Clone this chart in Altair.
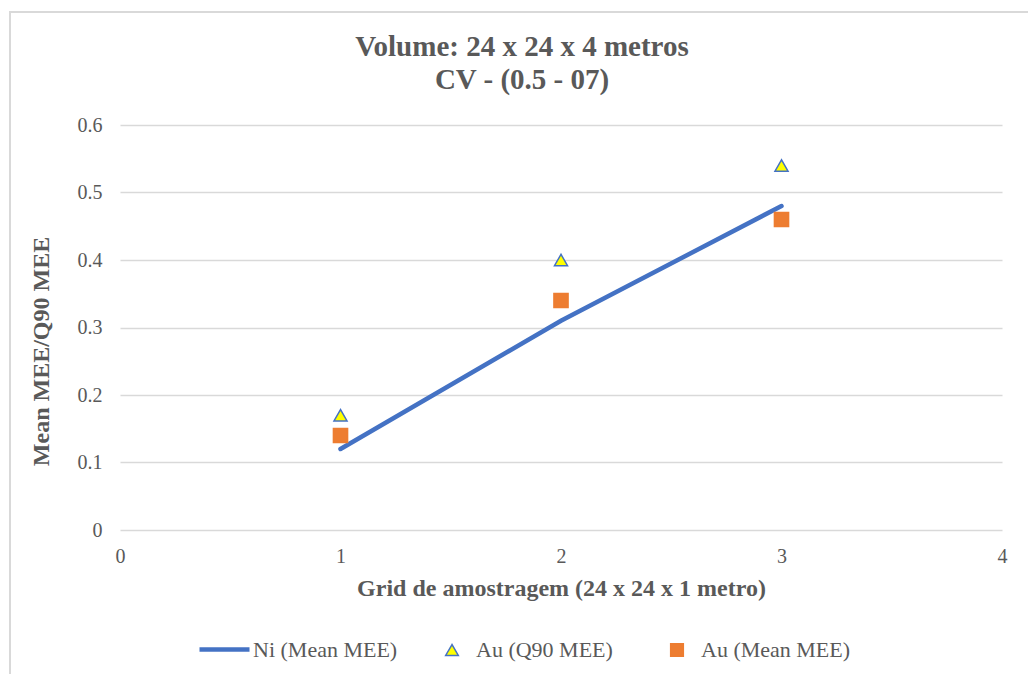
import altair as alt
import pandas as pd

# Series values read per sampling grid step
grid = [1, 2, 3]
ni_mean = [0.12, 0.31, 0.48]
au_q90 = [0.17, 0.40, 0.54]
au_mean = [0.14, 0.34, 0.46]

line_name = "Ni (Mean MEE)"
point_names = ["Au (Q90 MEE)", "Au (Mean MEE)"]
x_ticks = [0, 1, 2, 3, 4]
y_ticks = [0, 0.1, 0.2, 0.3, 0.4, 0.5, 0.6]

FONT = "Liberation Serif"
GREY = "#595959"
GRID = "#D9D9D9"
BLUE = "#4472C4"
ORANGE = "#ED7D31"
YELLOW = "#FFFF00"

line_df = pd.DataFrame({"grid": grid, "value": ni_mean, "serie": line_name})
pts_df = pd.concat([
    pd.DataFrame({"grid": grid, "value": au_q90, "serie": point_names[0]}),
    pd.DataFrame({"grid": grid, "value": au_mean, "serie": point_names[1]}),
])

x_enc = alt.X("grid:Q", scale=alt.Scale(domain=[0, 4], nice=False),
              axis=alt.Axis(values=x_ticks, title="Grid de amostragem (24 x 24 x 1 metro)",
                            grid=False, domain=False, ticks=False, labelPadding=16,
                            labelFlush=False, titlePadding=10, format="d"))
y_enc = alt.Y("value:Q", scale=alt.Scale(domain=[0, 0.6], nice=False),
              axis=alt.Axis(values=y_ticks, title="Mean MEE/Q90 MEE", grid=True, format="~g",
                            domain=False, ticks=False, labelPadding=18, titlePadding=24,
                            titleY=226))

common_legend = dict(title=None, orient="none", direction="horizontal",
                     labelFont=FONT, labelFontSize=22, labelColor=GREY, labelLimit=300)

line_legend = alt.Legend(legendX=77, legendY=497, labelOffset=1, symbolType="stroke",
                         symbolSize=2500, symbolStrokeWidth=4.5, **common_legend)
point_legend = alt.Legend(legendX=321, legendY=514, columns=2, columnPadding=53, labelOffset=13,
                          symbolSize=160, symbolStrokeWidth=1.5, **common_legend)

line = alt.Chart(line_df).mark_line(strokeCap="round", strokeWidth=4.5).encode(
    x=x_enc, y=y_enc,
    color=alt.Color("serie:N", scale=alt.Scale(domain=[line_name], range=[BLUE]), legend=line_legend),
)

# marker sizes per series (own scale order, kept out of the legend)
size_domain = [point_names[1], point_names[0]]
points = alt.Chart(pts_df).mark_point(filled=True, opacity=1, strokeWidth=1.5).encode(
    x=x_enc, y=y_enc,
    fill=alt.Fill("serie:N", scale=alt.Scale(domain=point_names, range=[YELLOW, ORANGE]), legend=point_legend),
    stroke=alt.Stroke("serie:N", scale=alt.Scale(domain=point_names, range=[BLUE, ORANGE]), legend=point_legend),
    shape=alt.Shape("serie:N", scale=alt.Scale(domain=point_names, range=["triangle-up", "square"]), legend=point_legend),
    size=alt.Size("serie:N", scale=alt.Scale(type="ordinal", domain=size_domain, range=[200, 170]), legend=None),
)

# outer chart frame
frame = alt.Chart(pd.DataFrame({"k": [0]})).mark_rect(fill=None, stroke=GRID, strokeWidth=2).encode(
    x=alt.value(-110), x2=alt.value(940), y=alt.value(-113), y2=alt.value(580)
)

chart = alt.layer(frame, line, points).properties(
    width=882, height=405,
    padding={"left": 120, "top": 125, "right": 26, "bottom": 144},
    autosize=alt.AutoSizeParams(type="none"),
    background="white",
    title=alt.TitleParams(
        text=["Volume: 24 x 24 x 4 metros", "CV - (0.5 - 07)"],
        font=FONT, fontSize=29, fontWeight="bold", color=GREY, anchor="middle",
        dx=-39, offset=0, dy=84, lineHeight=33,
    ),
).configure_view(stroke=None).configure_axis(
    labelFont=FONT, labelFontSize=20, labelColor=GREY,
    titleFont=FONT, titleFontSize=24, titleFontWeight="bold", titleColor=GREY,
    gridColor=GRID, gridWidth=1.5,
)

chart.save("out.html", embed_options={"renderer": "svg", "actions": False})
